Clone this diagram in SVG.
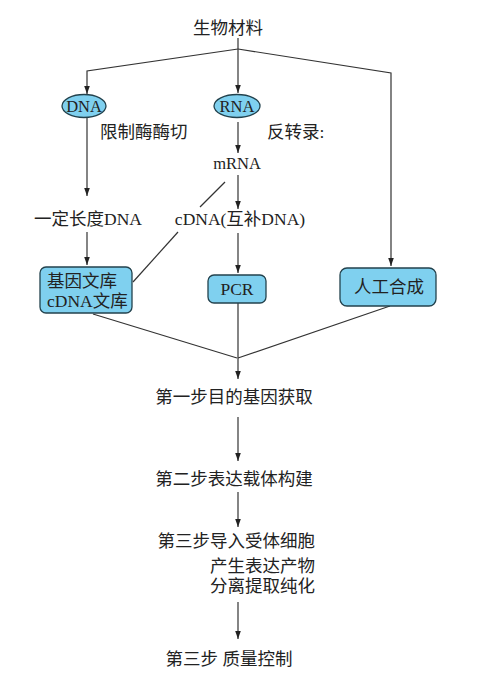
<svg xmlns="http://www.w3.org/2000/svg" width="500" height="676" viewBox="0 0 500 676">
<defs>
<marker id="ah" markerWidth="8" markerHeight="12" refX="8" refY="4" orient="auto" markerUnits="userSpaceOnUse" viewBox="0 0 8 8">
<path d="M0,1.2 L8,4 L0,6.8 Z" fill="#222"/>
</marker>
<style>
.t{font-family:"Liberation Serif","Noto Sans CJK SC",serif;font-size:17.5px;fill:#222}
.s{font-size:16.5px}
.n{fill:#7fd0ef;stroke:#23424d;stroke-width:1.3}
.c{fill:none;stroke:#333;stroke-width:1.2}
</style>
</defs>
<rect width="500" height="676" fill="#fff"/>
<g id="connectors">
<path class="c" d="M238,38 V49"/>
<path class="c" d="M238,49 L87,71 V94" marker-end="url(#ah)"/>
<path class="c" d="M238,49 V93" marker-end="url(#ah)"/>
<path class="c" d="M238,49 L391,73 V266" marker-end="url(#ah)"/>
<path class="c" d="M87,118 V196" marker-end="url(#ah)"/>
<path class="c" d="M87,232 V265" marker-end="url(#ah)"/>
<path class="c" d="M238,122 V153" marker-end="url(#ah)"/>
<path class="c" d="M238,175 V209" marker-end="url(#ah)"/>
<path class="c" d="M238,233 V273" marker-end="url(#ah)"/>
<path class="c" d="M225,182 L200,207"/>
<path class="c" d="M178,232 L133,282"/>
<path class="c" d="M93,314 L237,358"/>
<path class="c" d="M238,303 V379" marker-end="url(#ah)"/>
<path class="c" d="M390,306 L238,358"/>
<path class="c" d="M238,417 V461" marker-end="url(#ah)"/>
<path class="c" d="M238,492 V527" marker-end="url(#ah)"/>
<path class="c" d="M238,602 V639" marker-end="url(#ah)"/>
</g>
<g id="title"><text class="t" x="228" y="34" text-anchor="middle">生物材料</text></g>
<g id="dna"><ellipse class="n" cx="84" cy="106" rx="22" ry="11.5"/><text class="t s" x="84" y="112" text-anchor="middle" fill="#1b2f4a">DNA</text></g>
<g id="rna"><ellipse class="n" cx="237" cy="106" rx="23" ry="11.5"/><text class="t s" x="237" y="112" text-anchor="middle">RNA</text></g>
<g id="lbl1"><text class="t" x="100" y="138">限制酶酶切</text></g>
<g id="lbl2"><text class="t" x="267" y="138">反转录:</text></g>
<g id="mrna"><text class="t s" x="237" y="169" text-anchor="middle">mRNA</text></g>
<g id="fragdna"><text class="t" x="88" y="225" text-anchor="middle">一定长度DNA</text></g>
<g id="cdna"><text class="t" x="240" y="225" text-anchor="middle">cDNA(互补DNA)</text></g>
<g id="lib"><rect class="n" x="40" y="267" width="92" height="46" rx="6"/><text class="t" x="47" y="287">基因文库</text><text class="t" x="47" y="307">cDNA文库</text></g>
<g id="pcr"><rect class="n" x="208" y="275" width="58" height="28" rx="6"/><text class="t" x="237" y="295" text-anchor="middle">PCR</text></g>
<g id="synth"><rect class="n" x="340" y="268" width="96" height="38" rx="7"/><text class="t" x="389" y="293" text-anchor="middle">人工合成</text></g>
<g id="step1"><text class="t" x="234" y="403" text-anchor="middle">第一步目的基因获取</text></g>
<g id="step2"><text class="t" x="234" y="485" text-anchor="middle">第二步表达载体构建</text></g>
<g id="step3"><text class="t" x="315" y="547" text-anchor="end">第三步导入受体细胞</text><text class="t" x="315" y="572" text-anchor="end">产生表达产物</text><text class="t" x="315" y="592" text-anchor="end">分离提取纯化</text></g>
<g id="step4"><text class="t" x="229" y="665" text-anchor="middle" xml:space="preserve">第三步 质量控制</text></g>
</svg>
